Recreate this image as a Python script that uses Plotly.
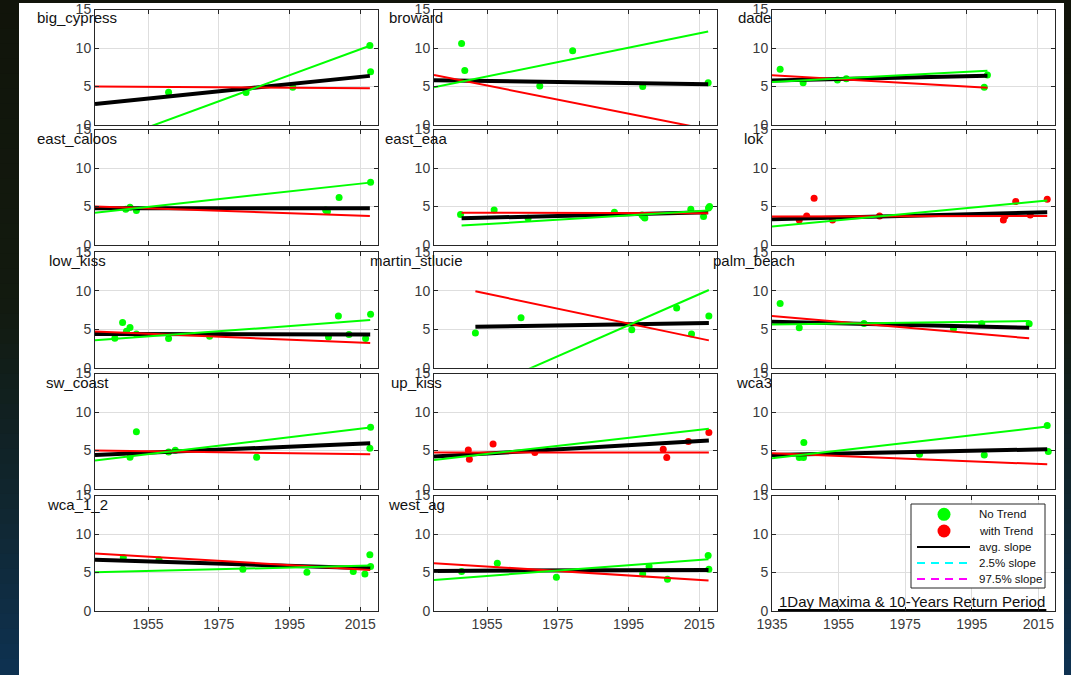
import plotly.graph_objects as go

W, H = 1071, 675

# ---------------- data ----------------
stations = ["big_cypress", "broward", "dade", "east_caloos", "east_eaa", "lok",
            "low_kiss", "martin_stlucie", "palm_beach", "sw_coast", "up_kiss",
            "wca3", "wca_1_2", "west_ag"]

# stations whose points are flagged "with Trend" (red); others "No Trend" (green)
trend_stations = ["lok", "up_kiss"]

big_cypress_years = [1960.8, 1982.7, 1995.9, 2017.7, 2017.9]
big_cypress_vals = [4.26, 4.22, 4.9, 10.33, 6.9]
broward_years = [1947.8, 1948.7, 1969.9, 1979.2, 1999.0, 2017.5]
broward_vals = [10.6, 7.07, 5.08, 9.64, 4.99, 5.5]
dade_years = [1942.3, 1948.8, 1958.5, 1961.0, 2000.0, 2000.9]
dade_vals = [7.25, 5.5, 5.86, 6.0, 4.9, 6.5]
east_caloos_years = [1948.7, 1949.9, 1951.7, 2005.2, 2005.7, 2009.0, 2017.9]
east_caloos_vals = [4.65, 4.9, 4.47, 4.55, 4.34, 6.16, 8.16]
east_eaa_years = [1947.5, 1957.0, 1966.6, 1991.0, 1998.8, 1999.2, 1999.6, 2012.6, 2016.2, 2017.6, 2017.9]
east_eaa_vals = [3.95, 4.56, 3.47, 4.26, 3.9, 3.7, 3.5, 4.65, 3.7, 4.8, 5.0]
lok_years = [1947.7, 1949.8, 1951.9, 1957.1, 1970.4, 2005.4, 2005.9, 2008.9, 2013.0, 2017.8]
lok_vals = [3.26, 3.78, 6.08, 3.26, 3.78, 3.26, 3.78, 5.64, 3.9, 5.95]
low_kiss_years = [1945.6, 1947.8, 1948.9, 1949.9, 1951.7, 1960.8, 1972.4, 2006.0, 2008.8, 2011.8, 2016.5, 2017.9]
low_kiss_vals = [3.82, 5.88, 4.74, 5.22, 4.39, 3.78, 4.08, 4.0, 6.71, 4.3, 3.78, 6.93]
martin_stlucie_years = [1951.7, 1964.6, 1995.9, 2008.6, 2012.8, 2017.7]
martin_stlucie_vals = [4.52, 6.5, 4.92, 7.76, 4.39, 6.71]
palm_beach_years = [1942.3, 1947.7, 1966.0, 1991.3, 1999.3, 2012.7]
palm_beach_vals = [8.34, 5.18, 5.75, 5.05, 5.7, 5.7]
sw_coast_years = [1949.9, 1951.7, 1960.8, 1962.7, 1985.7, 2017.7, 2017.9]
sw_coast_vals = [4.12, 7.42, 4.82, 5.03, 4.12, 5.29, 8.03]
up_kiss_years = [1949.7, 1950.0, 1956.7, 1968.5, 2004.8, 2005.8, 2011.9, 2017.7]
up_kiss_vals = [5.08, 3.86, 5.86, 4.73, 5.16, 4.08, 6.16, 7.33]
wca3_years = [1947.7, 1948.9, 1949.0, 1981.7, 2000.0, 2017.8, 2018.1]
wca3_vals = [4.08, 4.08, 6.03, 4.51, 4.43, 8.24, 4.86]
wca_1_2_years = [1948.0, 1958.1, 1981.8, 1999.9, 2013.0, 2016.3, 2017.7, 2017.9]
wca_1_2_vals = [6.94, 6.64, 5.42, 5.03, 5.12, 4.82, 7.29, 5.77]
west_ag_years = [1947.8, 1957.9, 1974.6, 1999.0, 2000.8, 2006.0, 2017.5, 2017.7]
west_ag_vals = [5.12, 6.21, 4.39, 4.82, 5.77, 4.12, 7.2, 5.42]

# fitted slope lines: start / end year and values at those years (per station, same order)
line_start = [1940, 1940, 1940, 1940, 1947.8, 1940, 1940, 1951.7, 1940, 1940, 1940, 1940, 1940, 1940]
line_end = [2017.7, 2017.5, 2000.9, 2017.7, 2017.5, 2017.8, 2017.8, 2017.7, 2012.7, 2017.8, 2017.7, 2017.8, 2017.8, 2017.6]
avg_start = [2.74, 5.82, 5.77, 4.77, 3.47, 3.35, 4.39, 5.31, 5.97, 4.43, 4.21, 4.43, 6.64, 5.21]
avg_end = [6.38, 5.3, 6.38, 4.77, 4.25, 4.26, 4.3, 5.79, 5.18, 5.95, 6.29, 5.16, 5.55, 5.34]
red_start = [5.0, 6.5, 6.47, 5.0, 4.2, 3.69, 4.7, 9.92, 6.71, 4.99, 4.73, 4.64, 7.46, 6.21]
red_end = [4.78, -0.58, 4.85, 3.78, 4.12, 3.78, 3.2, 3.55, 3.82, 4.51, 4.73, 3.2, 5.34, 3.95]
green_start = [-2.83, 4.9, 5.6, 4.2, 2.52, 2.39, 3.55, -3.2, 5.62, 3.69, 3.78, 4.0, 5.03, 4.04]
green_end = [10.3, 12.15, 7.03, 8.1, 4.47, 5.77, 6.18, 10.09, 6.05, 7.98, 7.81, 8.11, 5.9, 6.73]

x_ticks = [1955, 1975, 1995, 2015]
x_ticks_legend_panel = [1935, 1955, 1975, 1995, 2015]
y_ticks = [0, 5, 10, 15]
legend_panel_line_years = [1936.8, 2017.4]
legend_panel_line_vals = [0, 0]
legend_panel_text = "1Day Maxima & 10-Years Return Period"
legend_labels = ["No Trend", "with Trend", "avg. slope", "2.5% slope", "97.5% slope"]

points = {
    "big_cypress": (big_cypress_years, big_cypress_vals),
    "broward": (broward_years, broward_vals),
    "dade": (dade_years, dade_vals),
    "east_caloos": (east_caloos_years, east_caloos_vals),
    "east_eaa": (east_eaa_years, east_eaa_vals),
    "lok": (lok_years, lok_vals),
    "low_kiss": (low_kiss_years, low_kiss_vals),
    "martin_stlucie": (martin_stlucie_years, martin_stlucie_vals),
    "palm_beach": (palm_beach_years, palm_beach_vals),
    "sw_coast": (sw_coast_years, sw_coast_vals),
    "up_kiss": (up_kiss_years, up_kiss_vals),
    "wca3": (wca3_years, wca3_vals),
    "wca_1_2": (wca_1_2_years, wca_1_2_vals),
    "west_ag": (west_ag_years, west_ag_vals),
}

# ---------------- layout geometry (pixels) ----------------
col_left = [95, 434, 772]
ax_w = 283
row_bottom = [125, 245, 367.7, 489, 611]
ax_h = 115.5

FONT = "Liberation Sans, Arial, sans-serif"
AXC = "#262626"
GREEN = "#00ff00"
RED = "#ff0000"


def px(x):
    return x / W


def py(y):
    return 1 - y / H


fig = go.Figure()
layout = dict(template="none", width=W, height=H, autosize=False,
              margin=dict(l=0, r=0, t=0, b=0, pad=0, autoexpand=False),
              paper_bgcolor="#10160c", plot_bgcolor="white", showlegend=False,
              font=dict(family=FONT, color=AXC))
annotations = []
shapes = []

# dark gradient background with the white page on top
stops = [(0.0, (17, 20, 10)), (0.45, (18, 26, 15)), (0.75, (16, 38, 48)), (1.0, (14, 50, 82))]
nb = 45
for i in range(nb):
    t = (i + 0.5) / nb
    c = stops[-1][1]
    for j in range(len(stops) - 1):
        if stops[j][0] <= t <= stops[j + 1][0]:
            a, ca = stops[j]
            b, cb = stops[j + 1]
            f = (t - a) / (b - a)
            c = tuple(int(round(ca[k] + (cb[k] - ca[k]) * f)) for k in range(3))
            break
    shapes.append(dict(type="rect", xref="paper", yref="paper", x0=0, x1=1,
                       y0=1 - (i + 1) / nb, y1=min(1, 1 - i / nb + 0.002), line=dict(width=0),
                       fillcolor="rgb(%d,%d,%d)" % c, layer="below"))
shapes.append(dict(type="rect", xref="paper", yref="paper", x0=px(19), x1=px(1064),
                   y0=0, y1=py(3), line=dict(width=0), fillcolor="white", layer="below"))

for k in range(1, 16):
    r, c = (k - 1) // 3, (k - 1) % 3
    xl = col_left[c]
    yb = row_bottom[r]
    xs = "" if k == 1 else str(k)
    is_leg = (k == 15)
    layout["xaxis" + xs] = dict(
        domain=[px(xl), px(xl + ax_w)], anchor="y" + xs, automargin=False,
        range=[1935, 2020] if is_leg else [1940, 2020],
        tickvals=x_ticks_legend_panel if is_leg else x_ticks,
        showticklabels=(r == 4), ticks="inside", ticklen=4, tickcolor=AXC,
        showline=True, linecolor=AXC, linewidth=1, mirror="ticks",
        showgrid=True, gridcolor="#dedede", gridwidth=1, zeroline=False,
        tickfont=dict(size=14, color="#3a3a3a", family=FONT))
    layout["yaxis" + xs] = dict(
        domain=[py(yb), py(yb - ax_h)], anchor="x" + xs, automargin=False,
        range=[0, 15], tickvals=y_ticks, ticks="inside", ticklen=4, tickcolor=AXC,
        showline=True, linecolor=AXC, linewidth=1, mirror="ticks",
        showgrid=True, gridcolor="#dedede", gridwidth=1, zeroline=False,
        tickfont=dict(size=14, color="#3a3a3a", family=FONT))

    if not is_leg:
        i = k - 1
        name = stations[i]
        yrs, vals = points[name]
        col = RED if name in trend_stations else GREEN
        xr = "x" + xs
        yr = "y" + xs
        fig.add_trace(go.Scatter(x=yrs, y=vals, mode="markers", xaxis=xr, yaxis=yr,
                                 marker=dict(color=col, size=7, line=dict(width=0)),
                                 showlegend=False, hoverinfo="skip"))
        lx = [line_start[i], line_end[i]]
        fig.add_trace(go.Scatter(x=lx, y=[avg_start[i], avg_end[i]], mode="lines",
                                 xaxis=xr, yaxis=yr, line=dict(color="black", width=4),
                                 showlegend=False, hoverinfo="skip"))
        fig.add_trace(go.Scatter(x=lx, y=[red_start[i], red_end[i]], mode="lines",
                                 xaxis=xr, yaxis=yr, line=dict(color=RED, width=2),
                                 showlegend=False, hoverinfo="skip"))
        fig.add_trace(go.Scatter(x=lx, y=[green_start[i], green_end[i]], mode="lines",
                                 xaxis=xr, yaxis=yr, line=dict(color=GREEN, width=2),
                                 showlegend=False, hoverinfo="skip"))
        annotations.append(dict(text=name, xref="paper", yref="paper",
                                x=px(xl - 18), y=py(yb - ax_h + 8.5),
                                xanchor="center", yanchor="middle", showarrow=False,
                                font=dict(size=15, color="#111", family=FONT)))

# bottom-right legend panel: baseline line and caption
fig.add_trace(go.Scatter(x=legend_panel_line_years, y=legend_panel_line_vals, mode="lines",
                         xaxis="x15", yaxis="y15", line=dict(color="black", width=4),
                         cliponaxis=False, showlegend=False, hoverinfo="skip"))
annotations.append(dict(text=legend_panel_text, xref="paper", yref="paper", x=px(911.5), y=py(601),
                        xanchor="center", yanchor="middle", showarrow=False,
                        font=dict(size=15, color="#111", family=FONT)))

# legend box (MATLAB style)
lg_x0, lg_x1, lg_y0, lg_y1 = 911, 1045, 504, 588
shapes.append(dict(type="rect", xref="paper", yref="paper", x0=px(lg_x0), x1=px(lg_x1),
                   y0=py(lg_y1), y1=py(lg_y0), line=dict(color=AXC, width=1), fillcolor="white",
                   layer="above"))
item_y = [514.3, 531, 547, 563, 579]
sym_styles = [("marker", GREEN, None), ("marker", RED, None), ("line", "black", "solid"),
              ("line", "#00ffff", "8px,6px"), ("line", "#ff00ff", "8px,6px")]
for lab, yy, (kind, cl, ds) in zip(legend_labels, item_y, sym_styles):
    if kind == "marker":
        shapes.append(dict(type="circle", xref="paper", yref="paper", x0=px(944 - 6.5), x1=px(944 + 6.5),
                           y0=py(yy + 6.5), y1=py(yy - 6.5), line=dict(width=0), fillcolor=cl,
                           layer="above"))
    else:
        shapes.append(dict(type="line", xref="paper", yref="paper", x0=px(917), x1=px(970),
                           y0=py(yy), y1=py(yy), line=dict(color=cl, width=2, dash=ds), layer="above"))
    annotations.append(dict(text=lab, xref="paper", yref="paper", x=px(977), y=py(yy),
                            xanchor="left", yanchor="middle", showarrow=False,
                            font=dict(size=11.5, color="#111", family=FONT)))

layout["annotations"] = annotations
layout["shapes"] = shapes
fig.update_layout(**layout)
fig.write_html("out.html", config={"responsive": False, "displayModeBar": False},
               post_script="document.body.style.margin='0px';document.body.style.overflow='hidden';")
